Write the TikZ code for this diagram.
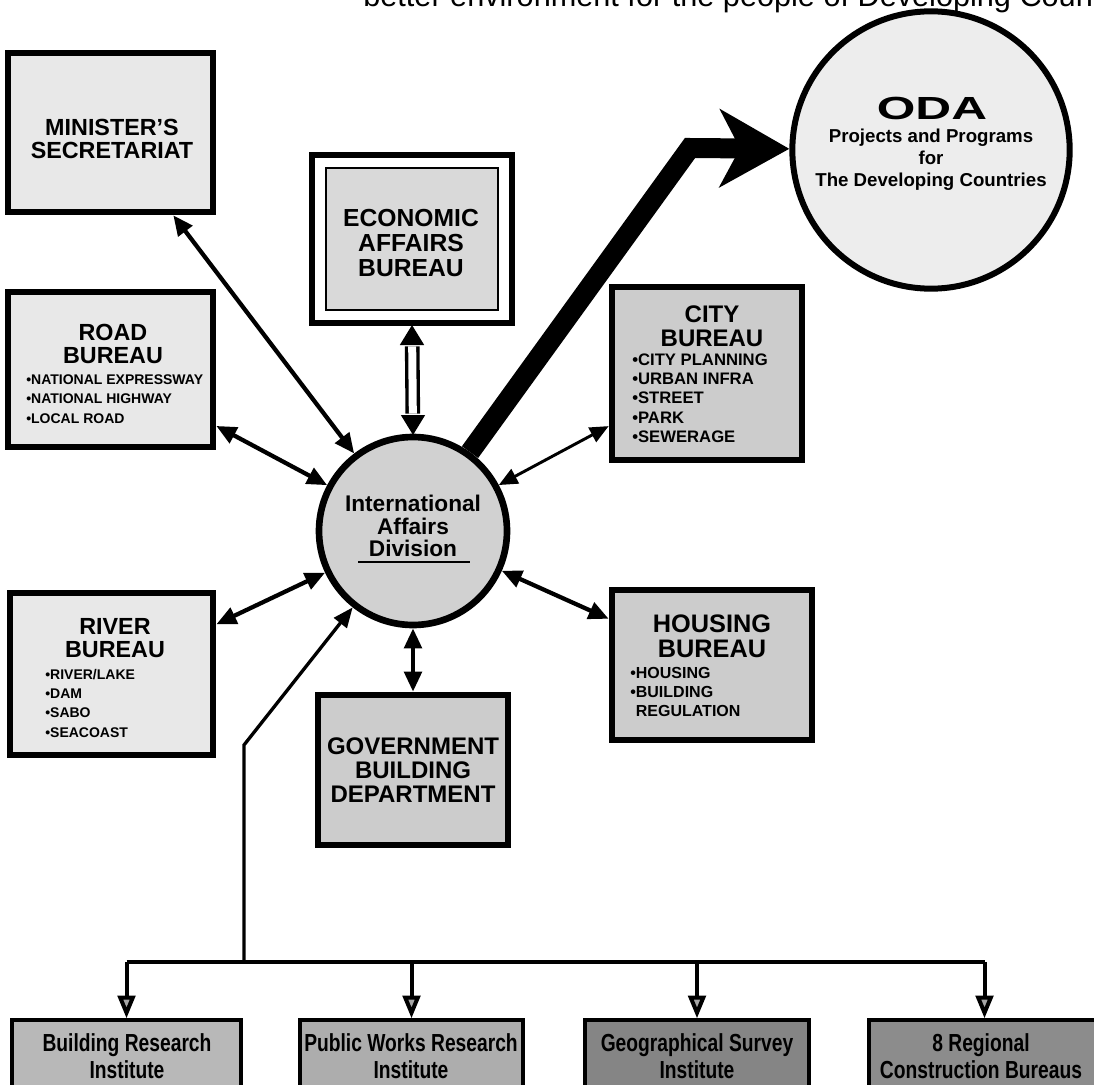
\documentclass[tikz,border=0pt]{standalone}
\usepackage{fontspec}
\setmainfont{Liberation Sans}
\newfontfamily\condfont[FakeStretch=0.78]{Liberation Sans}
\usetikzlibrary{arrows.meta,fit,calc}
\begin{document}
\begin{tikzpicture}[x=0.75pt,y=-0.75pt,
  bx/.style={draw, line width=5pt, inner sep=0pt},
  lite/.style={fill=black!9},
  mid/.style={fill=black!20},
  ttl/.style={font=\bfseries\fontsize{17.5}{17.5}\selectfont, align=center, inner sep=0pt},
  lst/.style={font=\bfseries\fontsize{10.5}{14.5}\selectfont, align=left, anchor=west, inner sep=0pt},
  conn/.style={line width=3.2pt, >={Triangle[length=15pt,width=13pt]}, <->},
  thinconn/.style={line width=2.2pt, >={Triangle[length=14pt,width=12pt]}, <->},
  bot/.style={draw, line width=2.5pt, inner sep=0pt},
  bott/.style={font=\condfont\bfseries\fontsize{18.5}{20}\selectfont, align=center, inner sep=0pt},
  tree/.style={line width=3pt},
  down/.style={line width=3pt, -{Triangle[length=17pt,width=13pt,fill=black!35]}}
]
\useasboundingbox (0,0) rectangle (1094,1084);
\begin{scope}
\clip (0,0) rectangle (1094,1084);

% header text (cut at the top edge)
\node[anchor=base west, inner sep=0pt, font=\fontsize{23}{23}\selectfont] (hdr) at (450,7) {\llap{better }environment for the people of Developing Countries};

% ODA circle
\node[circle, draw, line width=4.5pt, fill=black!7, minimum size=208pt] (oda) at (931,150) {};
\node[inner sep=0pt, font=\bfseries\fontsize{24}{24}\selectfont] (odat) at (932,108) {\scalebox{1.55}[1]{ODA}};
\node[inner sep=0pt, align=center, font=\bfseries\fontsize{14}{16.5}\selectfont] (odas) at (931,160) {Projects and Programs\\for\\The Developing Countries};

% central circle
\node[circle, draw, line width=5pt, fill=black!18, minimum size=141pt] (iad) at (413,531) {};
\node[inner sep=0pt, align=center, font=\bfseries\fontsize{17}{17}\selectfont] (iadt) at (413,526) {International\\Affairs\\Division};
\draw[line width=1.5pt] (358,562) -- (470,562);

% boxes
\node[bx, lite, fit={(8,53)(213,212)}] (min) {};
\node[ttl] (mint) at (112,139) {MINISTER'S\\SECRETARIAT};

\node[bx, fill=white, fit={(312,155)(512,323)}] (econ) {};
\draw[line width=1.5pt, fill=black!15] (326,168) rectangle (498,310);
\node[ttl, font=\bfseries\fontsize{18.5}{18.5}\selectfont] (econt) at (411,243) {ECONOMIC\\AFFAIRS\\BUREAU};

\node[bx, lite, fit={(8,292)(213,447)}] (road) {};
\node[ttl] (roadt) at (113,344) {ROAD\\BUREAU};
\node[lst] (roadl) at (26,399) {•NATIONAL EXPRESSWAY\\•NATIONAL HIGHWAY\\•LOCAL ROAD};

\node[bx, lite, fit={(10,593)(213,755)}] (river) {};
\node[ttl] (rivert) at (115,638) {RIVER\\BUREAU};
\node[lst] (riverl) at (45,703) {•RIVER/LAKE\\•DAM\\•SABO\\•SEACOAST};

\node[bx, mid, fit={(612,287)(802,460)}] (city) {};
\node[ttl, font=\bfseries\fontsize{18}{18}\selectfont] (cityt) at (712,326) {CITY\\BUREAU};
\node[lst, font=\bfseries\fontsize{12.5}{14.5}\selectfont] (cityl) at (632,398) {•CITY PLANNING\\•URBAN INFRA\\•STREET\\•PARK\\•SEWERAGE};

\node[bx, mid, fit={(612,590)(812,740)}] (hous) {};
\node[ttl, font=\bfseries\fontsize{19}{19}\selectfont] (houst) at (712,636) {HOUSING\\BUREAU};
\node[lst, font=\bfseries\fontsize{12}{14.5}\selectfont] (housl) at (630,692) {•HOUSING\\•BUILDING\\\hphantom{•}REGULATION};

\node[bx, mid, fit={(318,695)(508,845)}] (gov) {};
\node[ttl, font=\bfseries\fontsize{18}{18}\selectfont] (govt) at (413,770) {GOVERNMENT\\BUILDING\\DEPARTMENT};

% connectors to the central circle
\draw[conn] (min) -- (iad);
\draw[conn] (road) -- (iad);
\draw[conn] (river) -- (iad);
\draw[thinconn] (city) -- (iad);
\draw[conn] (hous) -- (iad);
\draw[conn] (iad) -- (gov);

% hollow double arrow to the economic bureau
\draw[line width=2.5pt, double=white, double distance=6pt, shorten <=15pt, shorten >=15pt] (econ.south) -- (iad.north);
\draw[line width=1pt, fill=black] (econ.south) -- ++(-11,18) -- ++(22,0) -- cycle;
\draw[line width=1pt, fill=black] (iad.north) -- ++(-11,-18) -- ++(22,0) -- cycle;

% thick arrow to ODA
\coordinate (odabend) at (690,148);
\draw[line width=15pt, line join=miter, -{Stealth[length=52pt,width=58pt,inset=15pt]}] (iad) -- (odabend) -- (oda);

% bottom institutes
\node[bot, fill=black!28, fit={(12,1020)(241,1110)}] (bri) {};
\node[bott] (brit) at (127,1056) {Building Research\\Institute};
\node[bot, fill=black!32, fit={(300,1020)(523,1110)}] (pwri) {};
\node[bott] (pwrit) at (411,1056) {Public Works Research\\Institute};
\node[bot, fill=black!48, fit={(585,1020)(809,1110)}] (gsi) {};
\node[bott] (gsit) at (697,1056) {Geographical Survey\\Institute};
\node[bot, fill=black!45, fit={(869,1020)(1100,1110)}] (rcb) {};
\node[bott] (rcbt) at (981,1056) {8 Regional\\Construction Bureaus};

\coordinate (jn) at (244,962);
\coordinate (tbend) at (244,745);
\draw[tree] (bri.north |- jn) -- (rcb.north |- jn);
\draw[down] (bri.north |- jn) -- (bri.north);
\draw[down] (pwri.north |- jn) -- (pwri.north);
\draw[down] (gsi.north |- jn) -- (gsi.north);
\draw[down] (rcb.north |- jn) -- (rcb.north);
\draw[line width=2.5pt, -{Triangle[length=15pt,width=12pt]}] (jn) -- (tbend) -- (iad);
\end{scope}
\end{tikzpicture}
\end{document}
